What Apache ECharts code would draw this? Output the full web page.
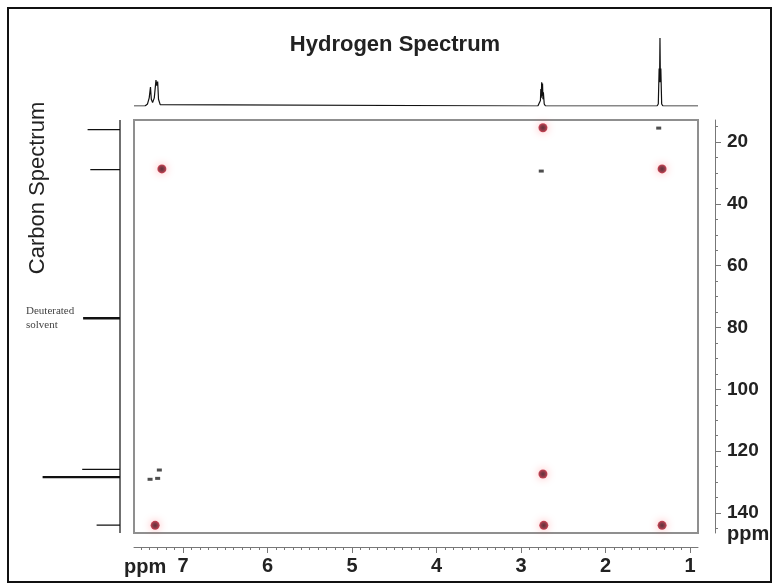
<!DOCTYPE html>
<html><head><meta charset="utf-8">
<script src="https://cdn.jsdelivr.net/npm/echarts@6/dist/echarts.min.js"></script>
<style>
html,body{margin:0;padding:0;background:#fff;}
#chart{position:absolute;left:0;top:0;width:777px;height:584px;}
#frame{position:absolute;left:7px;top:7px;width:761px;height:572px;border:2px solid #111;pointer-events:none;}
</style></head>
<body><div id="chart"></div><div id="frame"></div>
<script>
// ---- data ----
const hRange = [0.905, 7.58];          // 1H axis extent (ppm)
const cRange = [12.88, 146.47];        // 13C axis extent (ppm)
const hTickLabels = [1, 2, 3, 4, 5, 6, 7];
const cTickLabels = [20, 40, 60, 80, 100, 120, 140];
// 1H 1D spectrum trace: [ppm, relative intensity]
const hSpectrum = [
  [7.58,0],[7.45,0],[7.42,0.03],[7.40,0.12],[7.385,0.28],[7.375,0.10],[7.36,0.05],
  [7.34,0.12],[7.32,0.38],[7.31,0.30],[7.30,0.36],[7.29,0.10],[7.27,0.02],[7.25,0],
  [2.80,0],[2.78,0.02],[2.77,0.08],[2.765,0.25],[2.76,0.12],[2.755,0.35],[2.75,0.15],
  [2.745,0.33],[2.74,0.10],[2.735,0.2],[2.725,0.03],[2.71,0],
  [1.39,0],[1.375,0.03],[1.365,0.55],[1.36,0.35],[1.355,1.0],[1.35,0.35],[1.345,0.55],[1.335,0.03],[1.32,0],
  [0.905,0]
];
// 13C 1D spectrum peaks
const carbonShifts  = [16.0, 28.9, 77.0, 125.9, 128.4, 143.9];
const carbonHeights = [0.36, 0.33, 0.41, 0.42, 0.86, 0.26];
const carbonWidths  = [1.3, 1.3, 2.4, 1.3, 2.4, 1.3];
// HSQC cross peaks (strong, red)
const crossH = [2.74, 1.33, 7.25, 7.33, 2.74, 2.73, 1.33];
const crossC = [15.4, 28.7, 28.7, 144.0, 127.4, 144.0, 144.0];
// weak (black) responses
const weakH = [1.37, 2.76, 7.28, 7.39, 7.30];
const weakC = [15.5, 29.4, 126.1, 129.1, 128.8];

// ---- minor tick positions ----
const xMinor = []; for (let i = 10; i <= 75; i++) xMinor.push(i / 10);
const yMinor = []; for (let v = 15; v <= 145; v += 5) yMinor.push(v);

const axisColor = '#777';
const labelStyle = {fontFamily:'Liberation Sans, Arial, sans-serif', fontWeight:'bold', fontSize:20, color:'#222'};

const series = [];
series.push({type:'line', xAxisIndex:2, yAxisIndex:2, data:hSpectrum, showSymbol:false, silent:true,
  lineStyle:{color:'#111', width:1.2}});
series.push({type:'line', xAxisIndex:3, yAxisIndex:3, data:[[0,cRange[0]],[0,cRange[1]]], showSymbol:false,
  silent:true, lineStyle:{color:'#222', width:1.3}});
carbonShifts.forEach((s,i)=>{
  series.push({type:'line', xAxisIndex:3, yAxisIndex:3, data:[[0,s],[carbonHeights[i],s]], showSymbol:false,
    silent:true, lineStyle:{color:'#111', width:carbonWidths[i]}});
});
series.push({type:'scatter', xAxisIndex:0, yAxisIndex:0, data:weakH.map((h,i)=>[h,weakC[i]]),
  symbol:'rect', symbolSize:[5,3], itemStyle:{color:'#222'}});
series.push({type:'scatter', xAxisIndex:0, yAxisIndex:0, data:crossH.map((h,i)=>[h,crossC[i]]),
  symbolSize:9,
  itemStyle:{color:{type:'radial',x:0.5,y:0.5,r:0.5,colorStops:[{offset:0,color:'#3a0610'},{offset:0.55,color:'#6e1020'},{offset:1,color:'#c01c30'}]},
    shadowBlur:9, shadowColor:'rgba(255,60,70,0.5)'}});

const option = {
  animation:false,
  backgroundColor:'#fff',
  grid:[
    {left:134, top:120, width:564, height:413, show:true, borderColor:'#8f8f8f', borderWidth:2, containLabel:false},
    {left:134, top:38, width:564, height:68},
    {left:30, top:120, width:90, height:413}
  ],
  xAxis:[
    {type:'value', gridIndex:0, min:hRange[0], max:hRange[1], inverse:true, position:'bottom', offset:14,
      splitLine:{show:false}, axisLine:{show:true, lineStyle:{color:axisColor, width:1}},
      axisTick:{show:true, customValues:xMinor, length:3, lineStyle:{color:axisColor}},
      axisLabel:Object.assign({customValues:hTickLabels, margin:9}, labelStyle)},
    {type:'value', gridIndex:0, min:hRange[0], max:hRange[1], inverse:true, position:'bottom', offset:14,
      splitLine:{show:false}, axisLine:{show:false},
      axisTick:{show:true, customValues:hTickLabels, length:6, lineStyle:{color:axisColor}},
      axisLabel:{show:false}},
    {type:'value', gridIndex:1, min:hRange[0], max:hRange[1], inverse:true, show:false},
    {type:'value', gridIndex:2, min:0, max:1, inverse:true, show:false}
  ],
  yAxis:[
    {type:'value', gridIndex:0, min:cRange[0], max:cRange[1], inverse:true, position:'right', offset:17,
      splitLine:{show:false}, axisLine:{show:true, lineStyle:{color:axisColor, width:1}},
      axisTick:{show:true, customValues:yMinor, length:3, lineStyle:{color:axisColor}},
      axisLabel:Object.assign({customValues:cTickLabels, margin:12}, labelStyle, {fontSize:19})},
    {type:'value', gridIndex:0, min:cRange[0], max:cRange[1], inverse:true, position:'right', offset:17,
      splitLine:{show:false}, axisLine:{show:false},
      axisTick:{show:true, customValues:cTickLabels, length:6, lineStyle:{color:axisColor}},
      axisLabel:{show:false}},
    {type:'value', gridIndex:1, min:0, max:1, show:false},
    {type:'value', gridIndex:2, min:cRange[0], max:cRange[1], inverse:true, show:false}
  ],
  graphic:[
    {type:'text', style:{text:'Hydrogen Spectrum', x:395, y:45, align:'center', verticalAlign:'middle',
      font:'bold 22px "Liberation Sans", Arial, sans-serif', fill:'#222'}},
    {type:'text', x:38, y:188, rotation:Math.PI/2, style:{text:'Carbon Spectrum', align:'center', verticalAlign:'middle',
      font:'22px "Liberation Sans", Arial, sans-serif', fill:'#222'}},
    {type:'text', x:26, y:311, style:{text:'Deuterated', align:'left', verticalAlign:'middle',
      font:'11px "Liberation Serif", "Times New Roman", serif', fill:'#444'}},
    {type:'text', x:26, y:325, style:{text:'solvent', align:'left', verticalAlign:'middle',
      font:'11px "Liberation Serif", "Times New Roman", serif', fill:'#444'}},
    {type:'text', x:124, y:567, style:{text:'ppm', align:'left', verticalAlign:'middle',
      font:'bold 20px "Liberation Sans", Arial, sans-serif', fill:'#222'}},
    {type:'text', x:727, y:534, style:{text:'ppm', align:'left', verticalAlign:'middle',
      font:'bold 20px "Liberation Sans", Arial, sans-serif', fill:'#222'}}
  ],
  series:series
};
const chart = echarts.init(document.getElementById('chart'), null, {renderer:'canvas'});
chart.setOption(option);
</script>
</body></html>
